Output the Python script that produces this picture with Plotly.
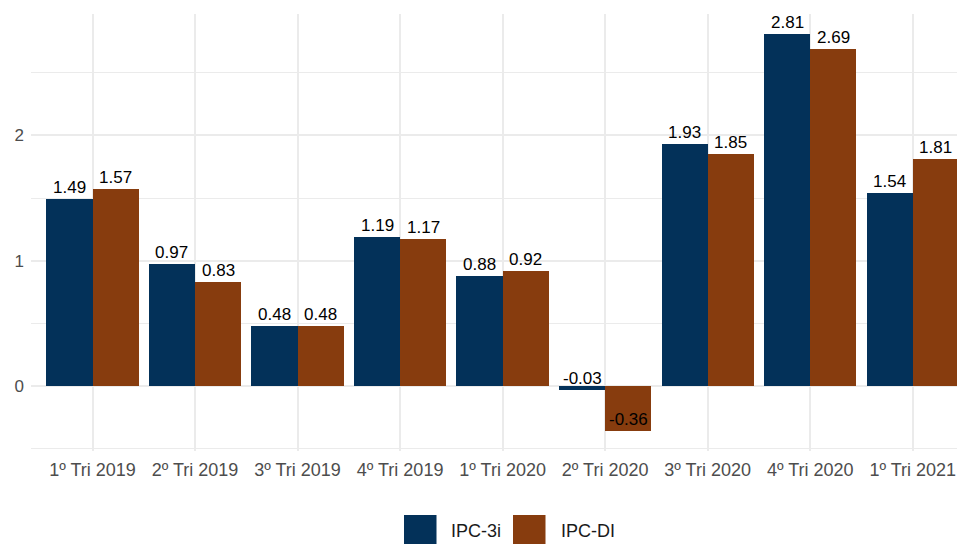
import plotly.graph_objects as go

categories = ["1º Tri 2019", "2º Tri 2019", "3º Tri 2019", "4º Tri 2019",
              "1º Tri 2020", "2º Tri 2020", "3º Tri 2020", "4º Tri 2020",
              "1º Tri 2021"]
ipc_3i = [1.49, 0.97, 0.48, 1.19, 0.88, -0.03, 1.93, 2.81, 1.54]
ipc_di = [1.57, 0.83, 0.48, 1.17, 0.92, -0.36, 1.85, 2.69, 1.81]
series_names = ["IPC-3i", "IPC-DI"]
series_colors = ["#033159", "#873c0e"]
y_ticks = [0, 1, 2]
y_minor = [-0.5, 0.5, 1.5, 2.5]

FONT = "Liberation Sans, Arial, sans-serif"
W, H = 957, 544
ML, MR, MT, MB = 31, 0, 14, 93

idx = list(range(len(categories)))
bar_w = 0.45
fig = go.Figure()
for s, (name, vals, col) in enumerate(zip(series_names, [ipc_3i, ipc_di], series_colors)):
    xs = [i + (s - 0.5) * bar_w for i in idx]
    fig.add_trace(go.Bar(x=xs, y=vals, width=bar_w, name=name,
                         marker=dict(color=col, line=dict(width=0)),
                         showlegend=False, hoverinfo="skip"))
    for x, v in zip(xs, vals):
        fig.add_annotation(x=x, y=v, text=f"{v:.2f}", showarrow=False,
                           yanchor="bottom", yshift=0,
                           font=dict(family=FONT, size=17, color="#000000"))

# legend drawn beneath the panel (large ggplot-style keys)
pw = W - ML - MR
ph = H - MT - MB
def px_x(p):
    return (p - ML) / pw
def px_y(p):
    return (H - MB - p) / ph

legend_keys_x = [404, 513]
legend_text_x = [449, 559]
for name, col, kx, tx in zip(series_names, series_colors, legend_keys_x, legend_text_x):
    fig.add_shape(type="rect", xref="paper", yref="paper",
                  x0=px_x(kx), x1=px_x(kx + 32.5), y0=px_y(515), y1=px_y(548),
                  fillcolor=col, line=dict(width=0), layer="above")
    fig.add_annotation(xref="paper", yref="paper", x=px_x(tx), y=px_y(531),
                       text=name, showarrow=False, xanchor="left", yanchor="middle",
                       font=dict(family=FONT, size=18, color="#1a1a1a"))

fig.update_layout(
    width=W, height=H,
    margin=dict(l=ML, r=MR, t=MT, b=MB, autoexpand=False),
    paper_bgcolor="white", plot_bgcolor="white",
    barmode="overlay", bargap=0,
    font=dict(family=FONT, color="#4d4d4d"),
)
fig.update_xaxes(
    range=[-0.6, 8.432], tickvals=idx, ticktext=categories,
    showgrid=True, gridcolor="#ebebeb", gridwidth=2, zeroline=False,
    ticks="", showline=False, tickfont=dict(family=FONT, size=18, color="#4d4d4d"),
    ticklabelstandoff=6,
)
fig.update_yaxes(
    range=[-0.5185, 2.9685], tickvals=y_ticks, ticktext=[str(t) for t in y_ticks],
    showgrid=True, gridcolor="#ebebeb", gridwidth=2, zeroline=False,
    ticks="", showline=False, tickfont=dict(family=FONT, size=17, color="#4d4d4d"),
    ticklabelstandoff=6,
    minor=dict(tickvals=y_minor, showgrid=True, gridcolor="#ebebeb", gridwidth=1),
)

fig.write_html("out.html", config={"displayModeBar": False},
               post_script="document.body.style.margin='0';document.body.style.overflow='hidden';")
